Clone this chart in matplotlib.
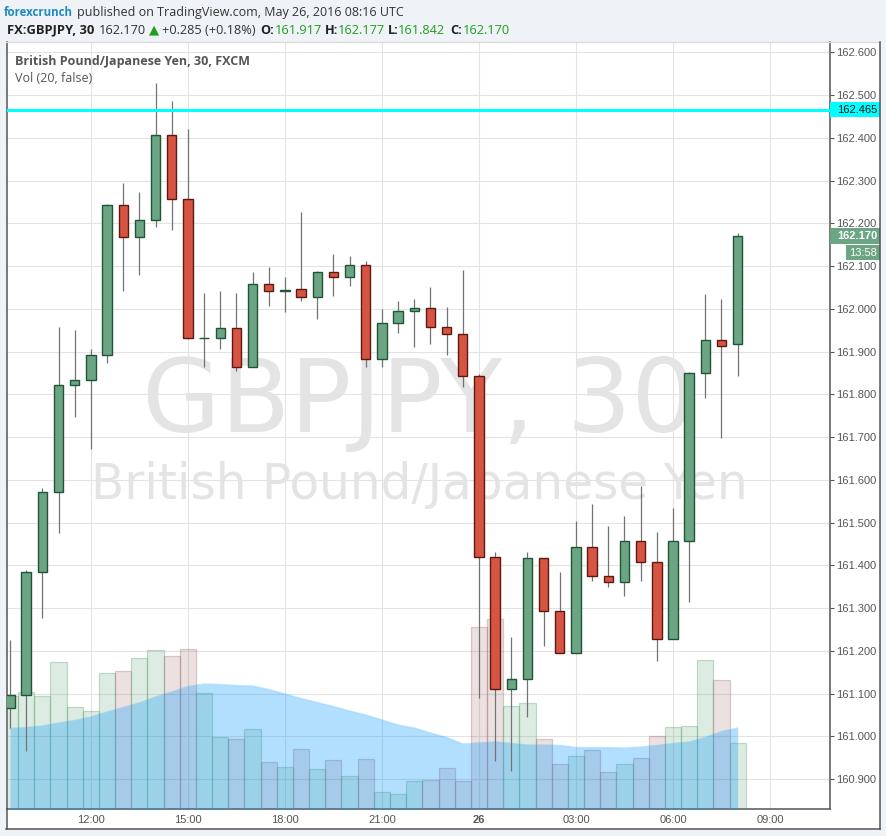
import matplotlib.pyplot as plt
from matplotlib.patches import Rectangle
from matplotlib.lines import Line2D
from matplotlib.transforms import blended_transform_factory
import numpy as np
import pandas as pd

W, H = 887, 836
FIGSIZE = (W / 100, H / 100)

# 30 min bars, GBPJPY (FXCM), 25-26 May 2016
bar_times = pd.date_range("2016-05-25 09:30", periods=46, freq="30min")

opens = [161.066, 161.096, 161.384, 161.571, 161.822, 161.833, 161.891, 162.242, 162.169, 162.207,
         162.406, 162.256, 161.931, 161.931, 161.954, 161.863, 162.059, 162.041, 162.046, 162.027,
         162.085, 162.075, 162.102, 161.882, 161.966, 161.994, 162.001, 161.957, 161.942, 161.842,
         161.419, 161.111, 161.133, 161.416, 161.292, 161.196, 161.442, 161.376, 161.362, 161.456,
         161.407, 161.227, 161.456, 161.849, 161.926, 161.917]
highs = [161.225, 161.390, 161.580, 161.957, 161.950, 161.907, 162.246, 162.294, 162.273, 162.527,
         162.486, 162.420, 162.036, 162.041, 162.038, 162.085, 162.097, 162.074, 162.226, 162.089,
         162.128, 162.123, 162.112, 161.999, 162.018, 162.023, 162.051, 162.004, 162.090, 161.847,
         161.431, 161.232, 161.431, 161.418, 161.384, 161.503, 161.543, 161.492, 161.515, 161.586,
         161.478, 161.534, 161.852, 162.034, 162.024, 162.177]
lows = [161.020, 160.965, 161.277, 161.475, 161.747, 161.671, 161.874, 162.042, 162.080, 162.192,
        162.185, 161.929, 161.863, 161.907, 161.855, 161.863, 162.007, 161.993, 162.019, 161.977,
        162.031, 162.053, 161.863, 161.863, 161.944, 161.911, 161.918, 161.893, 161.818, 161.089,
        160.943, 160.919, 161.046, 161.212, 161.196, 161.196, 161.364, 161.350, 161.329, 161.364,
        161.177, 161.227, 161.315, 161.792, 161.697, 161.842]
closes = [161.096, 161.384, 161.571, 161.822, 161.833, 161.891, 162.242, 162.169, 162.207, 162.406,
          162.256, 161.931, 161.932, 161.954, 161.863, 162.059, 162.041, 162.045, 162.027, 162.085,
          162.075, 162.102, 161.882, 161.966, 161.994, 162.001, 161.957, 161.942, 161.842, 161.419,
          161.111, 161.133, 161.416, 161.292, 161.196, 161.442, 161.376, 161.362, 161.456, 161.407,
          161.227, 161.456, 161.849, 161.926, 161.914, 162.170]
volumes = [1130, 1170, 1127, 1467, 1017, 980, 1360, 1380, 1510, 1587,
           1530, 1597, 1160, 720, 700, 800, 467, 420, 600, 400,
           490, 330, 500, 170, 150, 277, 290, 410, 280, 1817,
           1900, 1030, 1057, 700, 450, 530, 590, 367, 450, 510,
           727, 820, 830, 1487, 1287, 660]
vol_ma = [805, 815, 830, 860, 885, 920, 970, 1015, 1060, 1120,
          1170, 1225, 1250, 1245, 1235, 1230, 1195, 1150, 1105, 1065,
          1025, 980, 940, 890, 840, 810, 760, 715, 650, 660,
          670, 655, 640, 640, 635, 615, 615, 615, 610, 620,
          635, 655, 670, 715, 775, 810]

tick_times = pd.to_datetime(["2016-05-25 12:00", "2016-05-25 15:00", "2016-05-25 18:00",
                             "2016-05-25 21:00", "2016-05-26 00:00", "2016-05-26 03:00",
                             "2016-05-26 06:00", "2016-05-26 09:00"])
tick_labels = ["12:00", "15:00", "18:00", "21:00", "26", "03:00", "06:00", "09:00"]
price_ticks = [160.9, 161.0, 161.1, 161.2, 161.3, 161.4, 161.5, 161.6, 161.7,
               161.8, 161.9, 162.0, 162.1, 162.2, 162.3, 162.4, 162.5, 162.6]
hline_price = 162.465
last_price = 162.170

UP, DOWN = "#6ba583", "#d75442"
UP_EDGE, DOWN_EDGE = "#225437", "#5b1a13"
TXT = "#555555"

plt.rcParams['font.family'] = ['Liberation Sans', 'DejaVu Sans']

x = np.arange(len(bar_times))
tick_x = (tick_times - bar_times[0]) / pd.Timedelta("30min")
up = np.array(closes) >= np.array(opens)

fig = plt.figure(figsize=FIGSIZE, dpi=100, facecolor="#eff2f6")
fig.patches.append(Rectangle((6 / W, 7 / H), 874 / W, 787 / H, transform=fig.transFigure,
                             facecolor="white", edgecolor="none", zorder=-10))
rect = [7 / W, 27 / H, 823 / W, 767 / H]
xlim = (-0.186, 50.71)
ylim = (160.83, 162.624)

# price axes: grid, ticks, watermark
ax = fig.add_axes(rect, zorder=0)
ax.set_facecolor("white")
ax.set_xlim(*xlim)
ax.set_ylim(*ylim)
ax.set_yticks(price_ticks)
ax.set_yticklabels(["%.3f" % p for p in price_ticks])
ax.set_xticks(tick_x)
ax.set_xticklabels(tick_labels)
ax.get_xticklabels()[4].set_fontweight("bold")
ax.yaxis.tick_right()
ax.tick_params(axis="y", direction="out", length=3, width=0.8, pad=1.5, labelsize=8,
               colors=TXT)
ax.tick_params(axis="x", length=0, pad=4, labelsize=8, colors=TXT)
ax.grid(True, color="#e3e3e3", lw=0.8)
ax.set_axisbelow(True)
for s in ["left", "bottom", "right"]:
    ax.spines[s].set_color("#555555")
    ax.spines[s].set_linewidth(1.1)
ax.spines["top"].set_color("#d8d8d8")
ax.spines["top"].set_linewidth(0.8)

ax.text(0.5006, 0.492, "GBPJPY, 30", transform=ax.transAxes, ha="center", va="baseline",
        fontsize=73, color="#e4e4e4", family="DejaVu Sans", zorder=1)
ax.text(0.5006, 0.404, "British Pound/Japanese Yen", transform=ax.transAxes, ha="center",
        va="baseline", fontsize=35, color="#e4e4e4", family="DejaVu Sans", zorder=1)

# volume + MA
axv = fig.add_axes(rect, zorder=1)
axv.set_facecolor("none")
axv.set_axis_off()
axv.set_xlim(*xlim)
axv.set_ylim(0, 7670)
vol_fill = [(0.35, 0.63, 0.43, 0.2) if u else (0.59, 0.35, 0.35, 0.18) for u in up]
vol_edge = [(0.35, 0.63, 0.43, 0.35) if u else (0.59, 0.35, 0.35, 0.3) for u in up]
axv.bar(x, volumes, width=1.0, color=vol_fill, edgecolor=vol_edge, linewidth=0.9)
axv.fill_between(x, 0, vol_ma, color="#0496ff", alpha=0.3, lw=0)
axv.plot(x, vol_ma, color="#0496ff", alpha=0.25, lw=1)

# candles
axc = fig.add_axes(rect, zorder=2)
axc.set_facecolor("none")
axc.set_axis_off()
axc.set_xlim(*xlim)
axc.set_ylim(*ylim)
axc.vlines(x, lows, highs, color="#737375", lw=0.9, zorder=2)
for i in range(len(x)):
    o, c = opens[i], closes[i]
    axc.add_patch(Rectangle((x[i] - 0.29, min(o, c)), 0.58, max(abs(c - o), 0.0008),
                            facecolor=UP if up[i] else DOWN,
                            edgecolor=UP_EDGE if up[i] else DOWN_EDGE, lw=1.0, zorder=3))
axc.axhline(hline_price, color="#00ffff", lw=2.2, zorder=5)

# price axis labels
tr = blended_transform_factory(axc.transAxes, axc.transData)
axc.add_patch(Rectangle((1.0, hline_price - 0.0175), 0.0608, 0.035, transform=tr,
                        facecolor="#00ffff", edgecolor="none", clip_on=False, zorder=6))
axc.text(1.0085, hline_price, "%.3f" % hline_price, transform=tr, va="center", ha="left",
         fontsize=8, color="#111111", clip_on=False, zorder=7)
axc.add_patch(Rectangle((1.0, last_price - 0.0187), 0.0608, 0.0374, transform=tr,
                        facecolor=UP, edgecolor="none", clip_on=False, zorder=6))
axc.text(1.0085, last_price, "%.3f" % last_price, transform=tr, va="center", ha="left",
         fontsize=8, fontweight="bold", color="white", clip_on=False, zorder=7)
axc.add_patch(Rectangle((1.0194, 162.1316 - 0.0175), 0.0414, 0.035, transform=tr,
                        facecolor=UP, edgecolor="none", clip_on=False, zorder=6))
axc.text(1.040, 162.1316, "13:58", transform=tr, va="center", ha="center",
         fontsize=8, color="white", clip_on=False, zorder=7)

# panel borders
fig.lines.append(Line2D([6 / W, 880 / W], [794 / H, 794 / H], transform=fig.transFigure,
                        color="#d8d8d8", lw=0.8))
fig.lines.append(Line2D([880 / W, 880 / W], [7 / H, 794 / H], transform=fig.transFigure,
                        color="#555555", lw=1.1))
fig.lines.append(Line2D([6.5 / W, 880 / W], [7 / H, 7 / H], transform=fig.transFigure,
                        color="#555555", lw=1.1))
fig.lines.append(Line2D([7 / W, 7 / W], [7 / H, 27 / H], transform=fig.transFigure,
                        color="#555555", lw=1.1))

# header
def htext(px, py, s, **kw):
    kw.setdefault("family", ["Open Sans", "DejaVu Sans"])
    kw.setdefault("fontsize", 9.0)
    kw.setdefault("color", "#333333")
    fig.text(px / W, 1 - py / H, s, va="center", ha="left", **kw)

GREEN_TXT = "#1f9e1f"
htext(4, 12.5, "forexcrunch", fontweight="bold", color="#1e8bc3", fontsize=8.3)
htext(77, 12.5, "published on TradingView.com, May 26, 2016 08:16 UTC")
htext(7, 30, "FX:GBPJPY, 30", fontweight="bold", color="#222222", fontsize=9.4)
htext(99, 30, "162.170", fontsize=9.2)
htext(149, 30, "▲", family="DejaVu Sans", color="#1f9e1f", fontsize=9.5)
htext(162, 30, "+0.285 (+0.18%)", fontsize=9.2)
htext(260, 30, "O:", fontweight="bold", color="#222222", fontsize=9.2)
htext(275, 30, "161.917", color=GREEN_TXT, fontsize=9.2)
htext(325, 30, "H:", fontweight="bold", color="#222222", fontsize=9.2)
htext(338, 30, "162.177", color=GREEN_TXT, fontsize=9.2)
htext(388, 30, "L:", fontweight="bold", color="#222222", fontsize=9.2)
htext(398, 30, "161.842", color=GREEN_TXT, fontsize=9.2)
htext(450, 30, "C:", fontweight="bold", color="#222222", fontsize=9.2)
htext(463, 30, "162.170", color=GREEN_TXT, fontsize=9.2)

htext(15, 61, "British Pound/Japanese Yen, 30, FXCM", fontweight="bold", color=TXT, fontsize=9)
htext(15, 78, "Vol (20, false)", color=TXT, fontsize=9)

fig.savefig("out.png", dpi=100, facecolor=fig.get_facecolor())
